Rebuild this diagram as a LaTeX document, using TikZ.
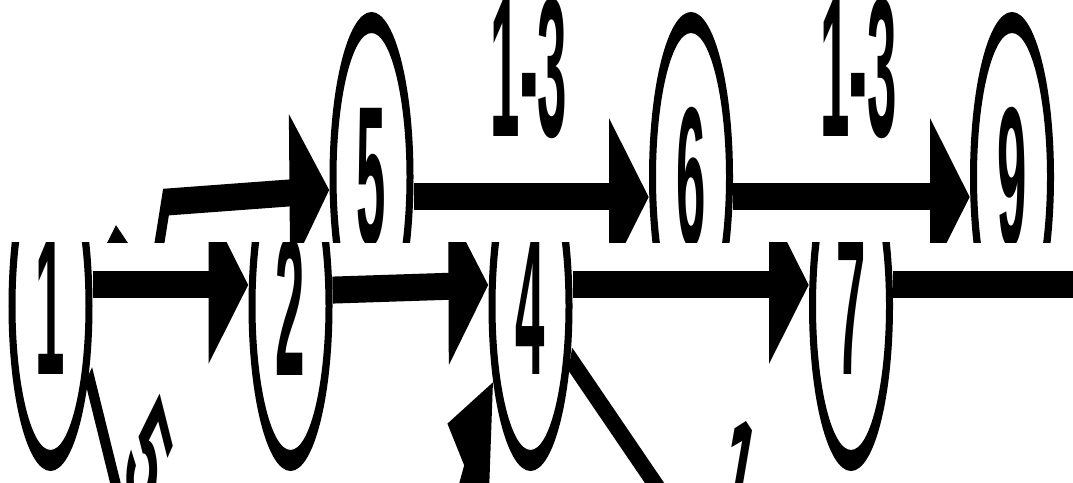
\documentclass[tikz,border=0pt]{standalone}
\usepackage{fontspec}
\setmainfont{Liberation Sans}
\usepackage{graphicx}
\usetikzlibrary{arrows.meta,shapes.geometric,calc}
\newcommand{\dg}[1]{\scalebox{0.8}[1]{\fontsize{66pt}{72pt}\selectfont\bfseries #1}}
\tikzset{
  nd/.style={ellipse,draw=black,line width=7pt,minimum width=77pt,minimum height=103pt,inner sep=0pt},
  ed/.style={draw=black,line width=9pt,-{Triangle[length=40pt,width=50pt]}},
  ln/.style={draw=black,line width=9pt},
  dgl/.style={draw=black,line width=8.5pt},
  lbl/.style={inner sep=0pt},
  band/.style={transform canvas={yscale=3}}
}
\begin{document}
\begin{tikzpicture}[x=1pt,y=1pt]
\fill[white] (0,0) rectangle (1073,482);
\useasboundingbox (0,0) rectangle (1073,482);
% upper band
\begin{scope}[band]
\clip (-20,79.67) rectangle (1100,170);
\node[nd] (n5) at (371.5,101.67) {\dg{5}};
\node[nd] (n6) at (691,101.67) {\dg{6}};
\node[nd] (n9) at (1012,101.67) {\dg{9}};
\coordinate (s5) at (150,60);
\coordinate (c5) at (166,93.3);
\draw[ed] (s5) -- (c5) -- ([yshift=-4.33pt]n5.west);
\draw[ed] ([yshift=-6.67pt]n5.east) -- node[lbl,pos=0.49,above=15pt] (l56) {\dg{1-3}} ([yshift=-6.67pt]n6.west);
\draw[ed] ([yshift=-6.67pt]n6.east) -- node[lbl,pos=0.53,above=15pt] (l69) {\dg{1-3}} ([yshift=-6.67pt]n9.west);
\fill[black] (107,79.67) -- (116,85.6) -- (128,79.67) -- cycle;
\end{scope}
% lower band
\begin{scope}[band]
\clip (-20,-20) rectangle (1100,79.67);
\node[nd] (n1) at (50.5,58.67) {\dg{1}};
\node[nd] (n2) at (290.5,58.67) {\dg{2}};
\node[nd] (n4) at (530.5,58.67) {\dg{4}};
\node[nd] (n7) at (851,58.67) {\dg{7}};
\coordinate (e7) at (1100,65.67);
\coordinate (d1) at (131,-21.4);
\coordinate (d4) at (690,-17.7);
\coordinate (s4) at (430.7,-41.9);
\draw[ed] ([yshift=7pt]n1.east) -- ([yshift=7pt]n2.west);
\draw[ed] ([yshift=5.3pt]n2.east) -- ([yshift=7pt]n4.west);
\draw[ed] ([yshift=7pt]n4.east) -- ([yshift=7pt]n7.west);
\draw[ln] ([yshift=7pt]n7.east) -- (e7);
\draw[dgl] (n1.-31) -- (d1);
\draw[dgl] (n4.-24) -- (d4);
\draw[ed] (s4) -- (n4.214);
\node[lbl,rotate=-53] (l13) at (148,7) {\dg{5}};
\node[lbl,rotate=-27] (l48) at (738,-1) {\dg{1}};
\end{scope}
\end{tikzpicture}
\end{document}
